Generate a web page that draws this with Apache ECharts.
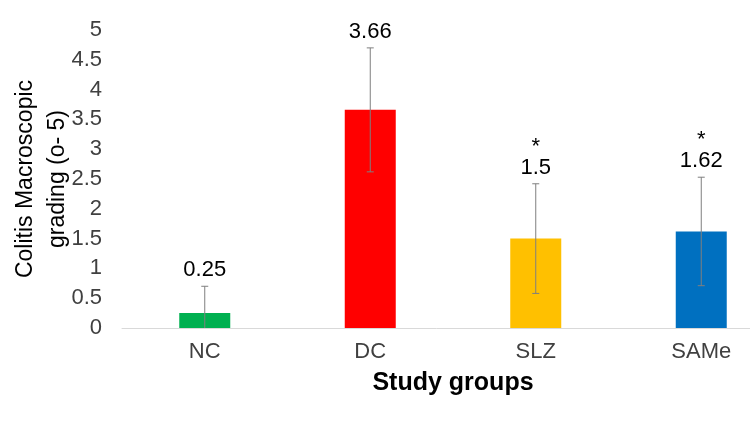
<!DOCTYPE html>
<html>
<head>
<meta charset="utf-8">
<script src="https://cdn.jsdelivr.net/npm/echarts@6/dist/echarts.min.js"></script>
<style>
  html, body { margin: 0; padding: 0; background: #fff; }
  #main { width: 750px; height: 424px; }
</style>
</head>
<body>
<div id="main"></div>
<script>
// data
var groups = ['NC', 'DC', 'SLZ', 'SAMe'];
var means = [0.25, 3.66, 1.5, 1.62];
var errors = [0.45, 1.04, 0.92, 0.91];
var stars = ['', '', '*', '*'];
var barColors = ['#00B050', '#FF0000', '#FFC000', '#0070C0'];
var yTicks = [0, 5, 0.5]; // min, max, interval

var font = 'Liberation Sans, Arial, sans-serif';

var myChart = echarts.init(document.getElementById('main'));

var errData = groups.map(function (g, i) {
    return [i, means[i], errors[i], stars[i]];
});

var option = {
    animation: false,
    backgroundColor: '#fff',
    grid: {
        left: 122,
        top: 30,
        width: 662,
        height: 298,
        outerBoundsMode: 'none'
    },
    xAxis: {
        type: 'category',
        data: groups,
        axisLine: { lineStyle: { color: '#d9d9d9', width: 1 } },
        axisTick: { show: false },
        axisLabel: { fontSize: 22, color: '#404040', margin: 13, fontFamily: font },
        name: 'Study groups',
        nameLocation: 'middle',
        nameGap: 43,
        nameTextStyle: { fontSize: 25, fontWeight: 'bold', color: '#000', fontFamily: font }
    },
    yAxis: {
        type: 'value',
        min: yTicks[0],
        max: yTicks[1],
        interval: yTicks[2],
        splitLine: { show: false },
        axisLine: { show: false },
        axisTick: { show: false },
        axisLabel: { fontSize: 22, color: '#404040', margin: 20, fontFamily: font },
        name: 'Colitis Macroscopic\ngrading (o- 5)',
        nameLocation: 'middle',
        nameRotate: 90,
        nameGap: 48,
        nameMoveOverlap: false,
        nameTextStyle: { fontSize: 23, color: '#000', lineHeight: 32, fontFamily: font }
    },
    series: [
        {
            type: 'bar',
            barWidth: 51,
            data: means.map(function (v, i) {
                return { value: v, itemStyle: { color: barColors[i] } };
            })
        },
        {
            type: 'custom',
            data: errData,
            z: 10,
            renderItem: function (params, api) {
                var i = api.value(0);
                var m = api.value(1);
                var e = api.value(2);
                var star = errData[params.dataIndex][3];
                var lowVal = Math.max(0, m - e);
                var top = api.coord([i, m + e]);
                var low = api.coord([i, lowVal]);
                var x = top[0];
                var cap = 3.5;
                var stroke = { stroke: '#7f7f7f', lineWidth: 1 };
                var kids = [
                    { type: 'line', shape: { x1: x, y1: top[1], x2: x, y2: low[1] }, style: stroke },
                    { type: 'line', shape: { x1: x - cap, y1: top[1], x2: x + cap, y2: top[1] }, style: stroke }
                ];
                if (m - e > 0) {
                    kids.push({ type: 'line', shape: { x1: x - cap, y1: low[1], x2: x + cap, y2: low[1] }, style: stroke });
                }
                var labelBottom = top[1] - 5;
                kids.push({
                    type: 'text',
                    style: {
                        text: String(m), x: x, y: labelBottom,
                        align: 'center', verticalAlign: 'bottom',
                        fontSize: 22, fill: '#000', fontFamily: font
                    }
                });
                if (star) {
                    kids.push({
                        type: 'text',
                        style: {
                            text: star, x: x, y: labelBottom - 21,
                            align: 'center', verticalAlign: 'bottom',
                            fontSize: 22, fill: '#000', fontFamily: font
                        }
                    });
                }
                return { type: 'group', children: kids };
            }
        }
    ]
};

myChart.setOption(option);
</script>
</body>
</html>
